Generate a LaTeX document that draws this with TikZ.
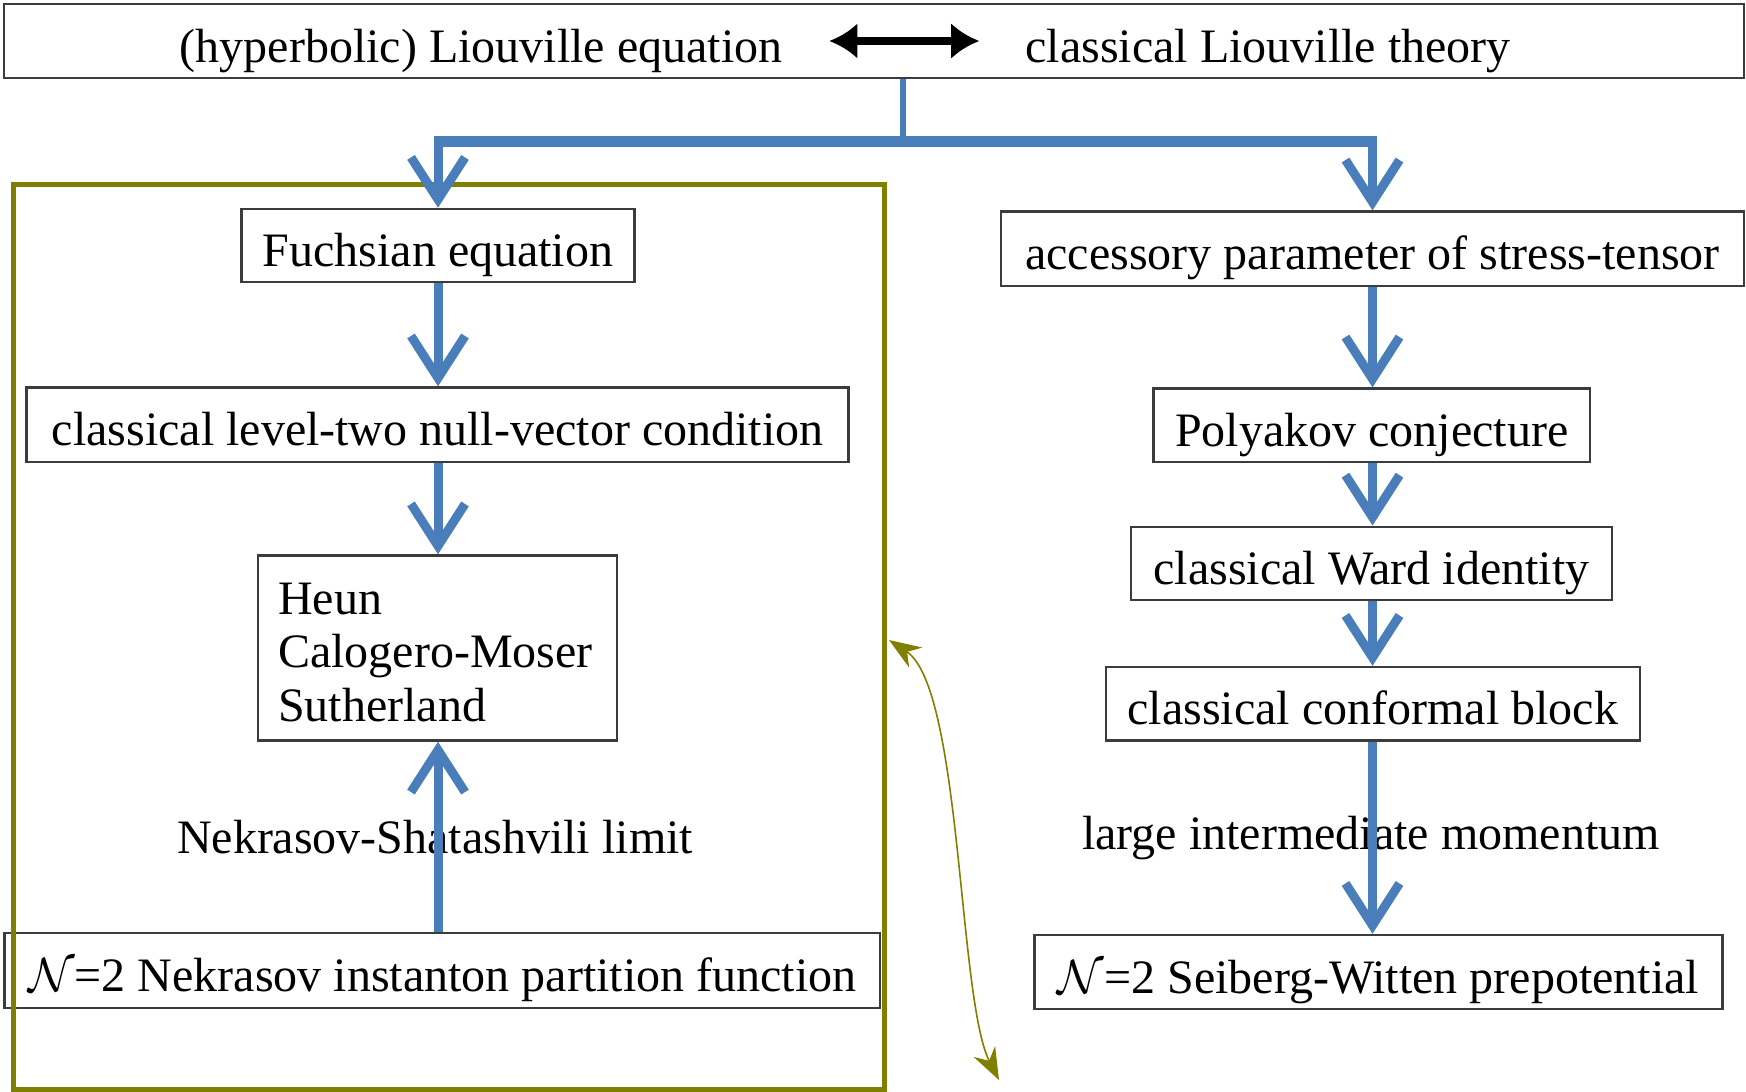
\RequirePackage{fix-cm}
\documentclass[tikz,border=0pt]{standalone}
\usepackage{fontspec}
\setmainfont{Liberation Serif}
\usetikzlibrary{arrows.meta}
\definecolor{flowblue}{RGB}{74,126,187}
\definecolor{olivec}{RGB}{128,128,0}
\definecolor{boxgray}{RGB}{60,60,60}
\begin{document}
\begin{tikzpicture}[x=1pt,y=-1pt,
  txt/.style={inner sep=0pt, font=\fontsize{48}{54}\selectfont, text height=42pt, text depth=0pt},
  box/.style={txt, draw=boxgray, line width=2.5pt},
  flow/.style={draw=flowblue, line width=9pt, -{Straight Barb[length=42pt,width=54pt]}},
  frame/.style={draw=olivec, line width=5pt, inner sep=0pt},
  link/.style={draw=olivec, line width=1.6pt, {Stealth[length=32pt,width=24pt]}-{Stealth[length=32pt,width=24pt]}}
]
\useasboundingbox (0,0) rectangle (1746,1092);

% top box
\node[box, minimum width=1740pt, minimum height=74pt] (top) at (874,41) {};
\node[txt] (lt) at (481,41) {(hyperbolic) Liouville equation};
\node[txt] (rt) at (1268,41) {classical Liouville theory};
\draw[line width=8pt, {Latex[length=28pt,width=36pt]}-{Latex[length=28pt,width=36pt]}, shorten <=47pt, shorten >=46pt] (lt.east) -- (rt.west);

% left column
\node[box, minimum width=393pt, minimum height=73pt] (fuch) at (438,245.5) {Fuchsian equation};
\node[box, minimum width=822pt, minimum height=74.5pt] (null) at (437.6,424.8) {classical level-two null-vector condition};
\node[box, minimum width=359pt, minimum height=185pt] (heun) at (437.5,648) {};
\node[txt, anchor=west] (h1) at (278,593) {Heun};
\node[txt, anchor=west] (h2) at (278,646) {Calogero-Moser};
\node[txt, anchor=west] (h3) at (278,700) {Sutherland};
\node[box, minimum width=875.5pt, minimum height=75pt] (nek) at (442.3,970.5) {$\mathcal{N}$=2 Nekrasov instanton partition function};
\node[txt] (nsl) at (435,832) {Nekrasov-Shatashvili limit};

% right column
\node[box, minimum width=743pt, minimum height=74.4pt] (acc) at (1372.5,248.8) {accessory parameter of stress-tensor};
\node[box, minimum width=436.4pt, minimum height=73.4pt] (poly) at (1371.8,425.3) {Polyakov conjecture};
\node[box, minimum width=481pt, minimum height=73.3pt] (ward) at (1371.5,563.4) {classical Ward identity};
\node[box, minimum width=534.3pt, minimum height=73.5pt] (conf) at (1372.9,703.8) {classical conformal block};
\node[box, minimum width=688.2pt, minimum height=74pt] (sw) at (1378.5,972) {$\mathcal{N}$=2 Seiberg-Witten prepotential};
\node[txt] (lim) at (1371,828) {large intermediate momentum};

% olive frame
\node[frame, minimum width=870.6pt, minimum height=905pt] (box) at (448.7,636.5) {};

% blue connectors
\coordinate (j) at (903,141);
\draw[flowblue, line width=6pt] (j |- top.south) -- (j);
\draw[flowblue, line width=11pt] ([xshift=-4pt]fuch.north |- j) -- ([xshift=4pt]acc.north |- j);
\draw[flow] (fuch.north |- j) -- (fuch.north);
\draw[flow] (acc.north |- j) -- (acc.north);
\draw[flow] (fuch.south) -- (fuch.south |- null.north);
\draw[flow] (fuch.south |- null.south) -- (fuch.south |- heun.north);
\draw[flow] (fuch.south |- nek.north) -- (fuch.south |- heun.south);
\draw[flow] (acc.south) -- (acc.south |- poly.north);
\draw[flow] (acc.south |- poly.south) -- (acc.south |- ward.north);
\draw[flow] (acc.south |- ward.south) -- (acc.south |- conf.north);
\draw[flow] (acc.south |- conf.south) -- (acc.south |- sw.north);

% olive link
\coordinate (oa) at (889,640);
\coordinate (ob) at (999,1080);
\draw[link] (oa) .. controls (962,688) and (958,1000) .. (ob);
\end{tikzpicture}
\end{document}
